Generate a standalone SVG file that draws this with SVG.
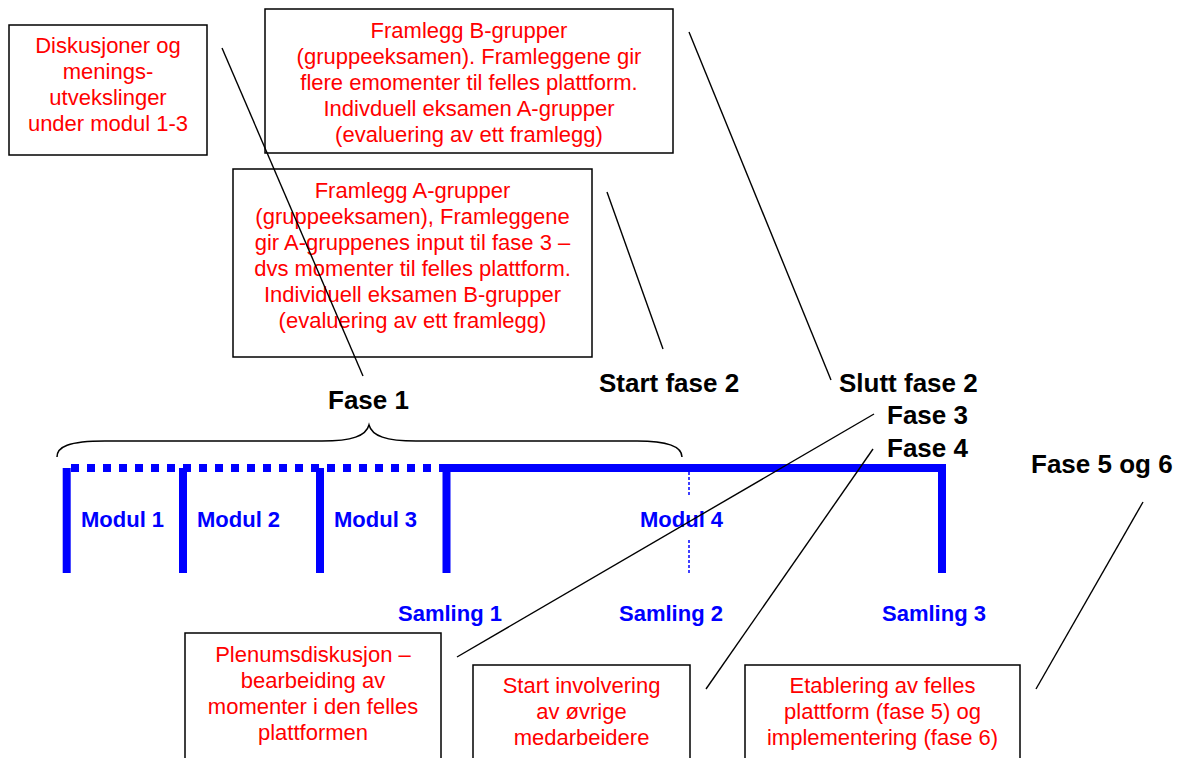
<svg xmlns="http://www.w3.org/2000/svg" width="1184" height="758" viewBox="0 0 1184 758">
<style>
.box{fill:#fff;stroke:#000;stroke-width:1.5}
.red{font-family:'Liberation Sans',Arial,sans-serif;font-size:22px;fill:#f00;text-anchor:middle}
.lbl{font-family:'Liberation Sans',Arial,sans-serif;font-size:26px;font-weight:bold;fill:#000}
.blue{font-family:'Liberation Sans',Arial,sans-serif;font-size:22px;font-weight:bold;fill:#00f}
.con{stroke:#000;stroke-width:1.4;fill:none}
.bar{stroke:#00f;stroke-width:8;fill:none}
</style>
<rect width="1184" height="758" fill="#fff"/>

<g id="box-diskusjoner">
<rect class="box" x="9" y="25" width="198" height="130"/>
<text class="red" x="108" y="53">Diskusjoner og</text>
<text class="red" x="108" y="79">menings-</text>
<text class="red" x="108" y="105">utvekslinger</text>
<text class="red" x="108" y="131">under modul 1-3</text>
</g>

<g id="box-framlegg-b">
<rect class="box" x="265" y="9" width="408" height="144"/>
<text class="red" x="469" y="38">Framlegg B-grupper</text>
<text class="red" x="469" y="64">(gruppeeksamen). Framleggene gir</text>
<text class="red" x="469" y="90">flere emomenter til felles plattform.</text>
<text class="red" x="469" y="116">Indivduell eksamen A-grupper</text>
<text class="red" x="469" y="142">(evaluering av ett framlegg)</text>
</g>

<g id="box-framlegg-a">
<rect class="box" x="233" y="169" width="359" height="188"/>
<text class="red" x="412.5" y="198">Framlegg A-grupper</text>
<text class="red" x="412.5" y="224">(gruppeeksamen), Framleggene</text>
<text class="red" x="412.5" y="250">gir A-gruppenes input til fase 3 –</text>
<text class="red" x="412.5" y="276">dvs momenter til felles plattform.</text>
<text class="red" x="412.5" y="302">Individuell eksamen B-grupper</text>
<text class="red" x="412.5" y="328">(evaluering av ett framlegg)</text>
</g>

<g id="box-plenum">
<rect class="box" x="185" y="633" width="256" height="140"/>
<text class="red" x="313" y="662">Plenumsdiskusjon –</text>
<text class="red" x="313" y="688">bearbeiding av</text>
<text class="red" x="313" y="714">momenter i den felles</text>
<text class="red" x="313" y="740">plattformen</text>
</g>

<g id="box-involvering">
<rect class="box" x="473" y="665" width="217" height="110"/>
<text class="red" x="581.5" y="693">Start involvering</text>
<text class="red" x="581.5" y="719">av øvrige</text>
<text class="red" x="581.5" y="745">medarbeidere</text>
</g>

<g id="box-etablering">
<rect class="box" x="745" y="665" width="275" height="110"/>
<text class="red" x="882.5" y="693">Etablering av felles</text>
<text class="red" x="882.5" y="719">plattform (fase 5) og</text>
<text class="red" x="882.5" y="745">implementering (fase 6)</text>
</g>

<g id="phase-labels">
<text class="lbl" x="328" y="409">Fase 1</text>
<text class="lbl" x="599" y="392">Start fase 2</text>
<text class="lbl" x="839" y="392">Slutt fase 2</text>
<text class="lbl" x="887" y="424">Fase 3</text>
<text class="lbl" x="887" y="457">Fase 4</text>
<text class="lbl" x="1031" y="473">Fase 5 og 6</text>
</g>

<g id="timeline">
<path d="M57,457 C57,447 68,441 105,441 L322,441 C352,441 366,436 369,425 C372,436 386,441 416,441 L637,441 C670,441 682,447 682,457" fill="none" stroke="#000" stroke-width="1.5"/>
<line class="bar" x1="71" y1="468" x2="446" y2="468" stroke-dasharray="8 8"/>
<line class="bar" x1="446" y1="468" x2="946" y2="468"/>
<polyline class="bar" points="66.7,468 66.7,573"/>
<line class="bar" x1="183" y1="468" x2="183" y2="573"/>
<line class="bar" x1="320" y1="468" x2="320" y2="573"/>
<line class="bar" x1="446.5" y1="468" x2="446.5" y2="573"/>
<line class="bar" x1="942" y1="468" x2="942" y2="573"/>
<line x1="689" y1="472" x2="689" y2="497" stroke="#00f" stroke-width="1.5" stroke-dasharray="3 2"/>
<line x1="689" y1="540" x2="689" y2="573" stroke="#00f" stroke-width="1.5" stroke-dasharray="3 2"/>
<text class="blue" x="81" y="527">Modul 1</text>
<text class="blue" x="197" y="527">Modul 2</text>
<text class="blue" x="334" y="527">Modul 3</text>
<text class="blue" x="640" y="527">Modul 4</text>
<text class="blue" x="398" y="621">Samling 1</text>
<text class="blue" x="619" y="621">Samling 2</text>
<text class="blue" x="882" y="621">Samling 3</text>
</g>

<g id="connectors">
<line class="con" x1="222" y1="48" x2="363" y2="376"/>
<line class="con" x1="689" y1="32" x2="831" y2="380"/>
<line class="con" x1="607" y1="192" x2="663" y2="349"/>
<line class="con" x1="874" y1="414" x2="457" y2="657"/>
<line class="con" x1="873" y1="449" x2="706" y2="689"/>
<line class="con" x1="1143" y1="502" x2="1036" y2="689"/>
</g>
</svg>
